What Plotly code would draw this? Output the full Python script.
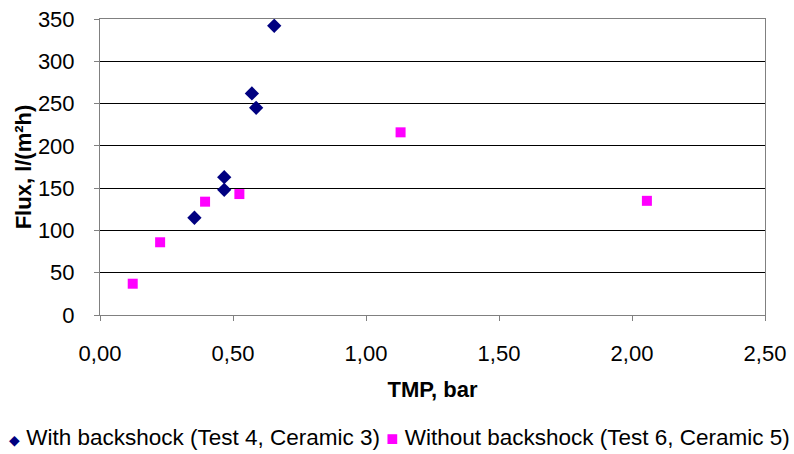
import plotly.graph_objects as go

with_x = [0.355, 0.467, 0.467, 0.571, 0.587, 0.655]
with_y = [115, 148, 163, 262, 245, 342]
without_x = [0.123, 0.226, 0.395, 0.524, 1.13, 2.056]
without_y = [37, 86, 134, 143, 216, 135]

name_with = "With backshock (Test 4, Ceramic 3)"
name_without = "Without backshock (Test 6, Ceramic 5)"
col_with = "#000080"
col_without = "#FF00FF"

font = "Liberation Sans, Arial, sans-serif"

fig = go.Figure()
fig.add_trace(go.Scatter(x=with_x, y=with_y, mode="markers", name=name_with,
                         marker=dict(symbol="diamond", size=11, color=col_with)))
fig.add_trace(go.Scatter(x=without_x, y=without_y, mode="markers", name=name_without,
                         marker=dict(symbol="square", size=10, color=col_without)))

legend_text = (f"<span style='color:{col_with};font-size:14px'>◆</span> {name_with} "
               f"<span style='color:{col_without};font-size:20px'>■</span> {name_without}")
fig.add_annotation(text=legend_text, xref="paper", yref="paper", x=0.451, y=-0.4155,
                   xanchor="center", yanchor="middle", showarrow=False,
                   font=dict(size=22.5, family=font, color="black"))

fig.update_layout(
    width=794, height=454,
    margin=dict(l=100, r=29, t=19, b=139, autoexpand=False),
    paper_bgcolor="white", plot_bgcolor="white",
    separators=", ",
    font=dict(family=font, size=22, color="black"),
    showlegend=False,
    xaxis=dict(range=[0, 2.5], dtick=0.5, tick0=0, tickformat=".2f",
               showgrid=False, zeroline=False, showline=True, linecolor="#808080",
               linewidth=1, mirror=True, ticks="outside", ticklen=5, tickcolor="#808080",
               ticklabelstandoff=14,
               title=dict(text="<b>TMP, bar</b>", font=dict(size=22), standoff=16)),
    yaxis=dict(range=[0, 350], dtick=50, tick0=0,
               showgrid=True, gridcolor="black", gridwidth=1, zeroline=False,
               showline=True, linecolor="#808080", linewidth=1, mirror=True,
               ticks="outside", ticklen=5, tickcolor="#808080",
               ticklabelstandoff=15,
               title=dict(text="<b>Flux, l/(m²h)</b>", font=dict(size=22), standoff=0)),
)

fig.write_html("out.html")
